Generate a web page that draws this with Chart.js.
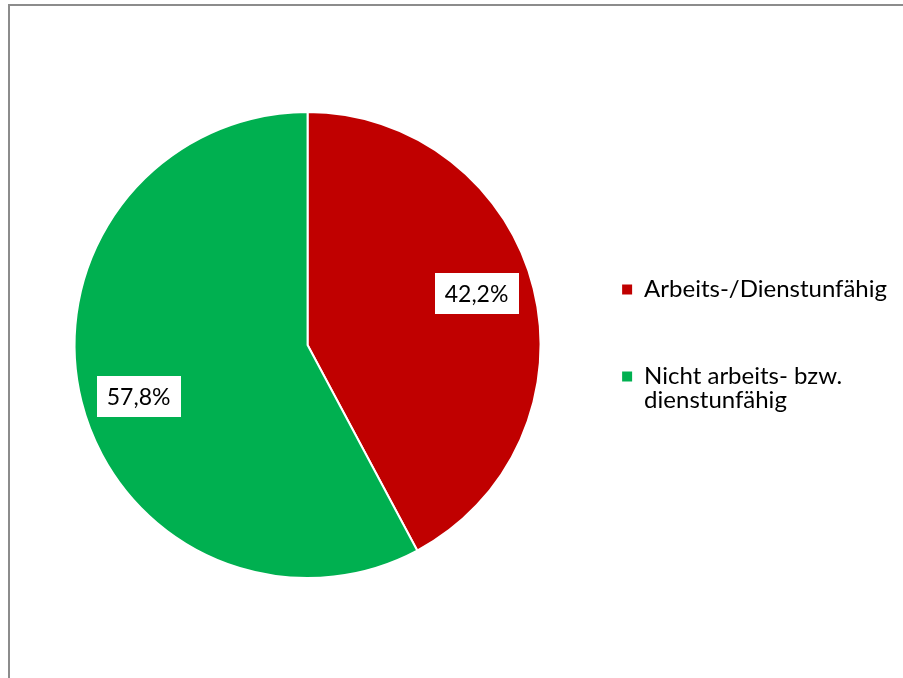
<!DOCTYPE html>
<html lang="de">
<head>
    <meta charset="UTF-8">
    <title>Arbeits-/Dienstunfähigkeit</title>
    <script src="https://cdn.jsdelivr.net/npm/chart.js"></script>
    <style>
        body { margin: 0; background: #fff; }
        .frame { position: absolute; left: 8px; top: 4px; width: 1000px; height: 800px; border: 2px solid #8c8c8c; pointer-events: none; }
        .chart-box { position: absolute; left: 0; top: 0; width: 903px; height: 678px; }
    </style>
</head>
<body>
<div class="chart-box"><canvas id="pieChart"></canvas></div>
<div class="frame"></div>

<script>
    const categories = ['Arbeits-/Dienstunfähig', ['Nicht arbeits- bzw.', 'dienstunfähig']];
    const shares = [42.2, 57.8];
    const colors = ['#C00000', '#00B050'];

    const FONT = 'Lato, "Open Sans", sans-serif';

    // Prozentwerte in weissen Kästchen auf die Segmente schreiben
    const valueLabels = {
        id: 'valueLabels',
        afterDatasetsDraw(chart) {
            const ctx = chart.ctx;
            const meta = chart.getDatasetMeta(0);
            ctx.save();
            ctx.font = '23px ' + FONT;
            ctx.textAlign = 'center';
            ctx.textBaseline = 'middle';
            meta.data.forEach((arc, i) => {
                const p = arc.getProps(['x', 'y', 'startAngle', 'endAngle', 'outerRadius']);
                const mid = (p.startAngle + p.endAngle) / 2 - 0.05;
                const r = p.outerRadius * 0.758;
                const x = p.x + Math.cos(mid) * r;
                const y = p.y + Math.sin(mid) * r;
                const text = shares[i].toLocaleString('de-DE', { minimumFractionDigits: 1 }) + '%';
                const w = ctx.measureText(text).width + 20;
                const h = 41;
                ctx.fillStyle = '#fff';
                ctx.fillRect(Math.round(x - w / 2), Math.round(y - h / 2), Math.round(w), h);
                ctx.fillStyle = '#000';
                ctx.fillText(text, x, y + 1);
            });
            ctx.restore();
        }
    };

    new Chart(document.getElementById('pieChart'), {
        type: 'pie',
        data: {
            labels: categories,
            datasets: [{
                data: shares,
                backgroundColor: colors,
                borderColor: '#fff',
                borderWidth: 2
            }]
        },
        options: {
            responsive: true,
            maintainAspectRatio: false,
            animation: false,
            layout: { padding: { left: 56, top: 111, bottom: 99, right: 6 } },
            plugins: {
                legend: {
                    position: 'right',
                    labels: {
                        boxWidth: 10,
                        boxHeight: 10,
                        padding: 63,
                        color: '#000',
                        font: { family: FONT, size: 24, lineHeight: 1.0 },
                        // volle Farbkästchen ohne weissen Rand
                        generateLabels(chart) {
                            return Chart.overrides.pie.plugins.legend.labels.generateLabels(chart)
                                .map(item => ({ ...item, strokeStyle: item.fillStyle, lineWidth: 0 }));
                        }
                    }
                },
                tooltip: { enabled: false }
            }
        },
        plugins: [valueLabels]
    });
</script>
</body>
</html>
